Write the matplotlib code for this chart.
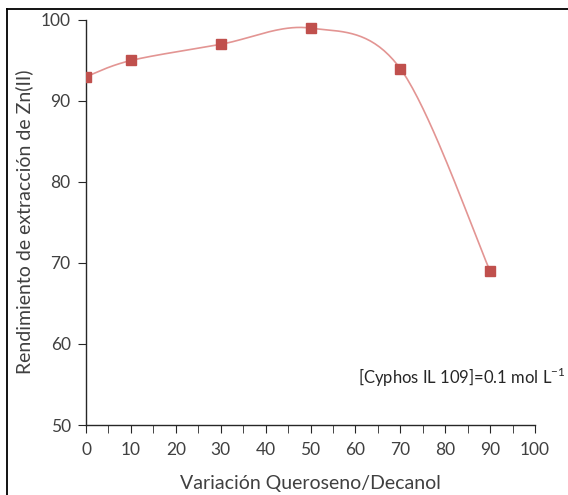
import numpy as np
import matplotlib
matplotlib.use("Agg")
import matplotlib.pyplot as plt
from matplotlib.lines import Line2D
from matplotlib.ticker import MultipleLocator

x_vals = [0, 10, 30, 50, 70, 90]
y_vals = [93, 95, 97, 99, 94, 69]
x_label = "Variación Queroseno/Decanol"
y_label = "Rendimiento de extracción de Zn(II)"
note = "[Cyphos IL 109]=0.1 mol L$^{-1}$"

plt.rcParams['font.family'] = ['Lato', 'DejaVu Sans']
plt.rcParams['mathtext.fontset'] = 'custom'
plt.rcParams['mathtext.rm'] = 'Lato'

W, H = 568, 495
fig = plt.figure(figsize=(W / 100, H / 100), dpi=100)
ax = fig.add_axes([86 / W, 1 - 425 / H, (535 - 86) / W, (425 - 20) / H])


def smooth(xs, ys, n=40):
    # Excel-style smoothed line (Catmull-Rom Bezier)
    P = np.column_stack([xs, ys]).astype(float)
    out = []
    for i in range(len(P) - 1):
        p0 = P[i - 1] if i > 0 else P[i]
        p1 = P[i]
        p2 = P[i + 1]
        p3 = P[i + 2] if i + 2 < len(P) else P[i + 1]
        c1 = p1 + (p2 - p0) / 6
        c2 = p2 - (p3 - p1) / 6
        t = np.linspace(0, 1, n)[:, None]
        seg = ((1 - t) ** 3) * p1 + 3 * ((1 - t) ** 2) * t * c1 + 3 * (1 - t) * t ** 2 * c2 + t ** 3 * p2
        out.append(seg if i == 0 else seg[1:])
    s = np.vstack(out)
    return s[:, 0], s[:, 1]


sx, sy = smooth(x_vals, y_vals)
ax.plot(sx, sy, color='#E39593', lw=1.2, zorder=2)
ax.plot(x_vals, y_vals, ls='none', marker='s', ms=6.5, color='#C0504D', zorder=3)

ax.set_xlim(0, 100)
ax.set_ylim(50, 100)
ax.xaxis.set_major_locator(MultipleLocator(10))
ax.xaxis.set_minor_locator(MultipleLocator(5))
ax.yaxis.set_major_locator(MultipleLocator(10))
for s in ['top', 'right']:
    ax.spines[s].set_visible(False)
for s in ['left', 'bottom']:
    ax.spines[s].set_color('#262626')
    ax.spines[s].set_linewidth(1.0)
ax.tick_params(axis='both', which='both', direction='out', color='#262626', labelcolor='#404040',
               labelsize=12.5)
ax.tick_params(axis='x', which='major', length=6, pad=6)
ax.tick_params(axis='x', which='minor', length=6)
ax.tick_params(axis='y', which='major', length=6, pad=5)

fig.text(310 / W, 1 - 484 / H, x_label, ha='center', va='center', fontsize=14, color='#404040')
fig.text(24 / W, 1 - 222 / H, y_label, ha='center', va='center', rotation=90, fontsize=14, color='#404040')
fig.text(358 / W, 1 - 377 / H, note, ha='left', va='center', fontsize=12, color='#262626')

fig.add_artist(Line2D([6.5 / W, 6.5 / W], [0, 1 - 9 / H], transform=fig.transFigure, color='black', lw=1.3))
fig.add_artist(Line2D([6.5 / W, 1], [1 - 9 / H, 1 - 9 / H], transform=fig.transFigure, color='black', lw=1.3))

fig.savefig("out.png", dpi=100)
